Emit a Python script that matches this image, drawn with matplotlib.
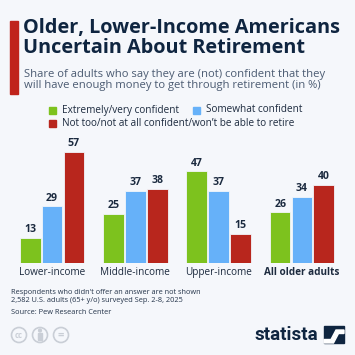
import matplotlib
matplotlib.use("Agg")
import matplotlib.pyplot as plt
from matplotlib.patches import Rectangle, Circle, Polygon
import numpy as np

categories = ["Lower-income", "Middle-income", "Upper-income", "All older adults"]
series_names = ["Extremely/very confident", "Somewhat confident",
                "Not too/not at all confident/won\u2019t be able to retire"]
extremely = [13, 25, 47, 26]
somewhat = [29, 37, 37, 34]
not_conf = [57, 38, 15, 40]
colors = ["#7dc21e", "#66b1f9", "#b8261d"]

title = "Older, Lower-Income Americans\nUncertain About Retirement"
subtitle = ("Share of adults who say they are (not) confident that they\n"
            "will have enough money to get through retirement (in %)")
notes = ["Respondents who didn't offer an answer are not shown",
         "2,582 U.S. adults (65+ y/o) surveyed Sep. 2-8, 2025",
         "Source: Pew Research Center"]

BG = "#f5f7fb"
NAVY = "#0f2540"
FONT = "Open Sans"

W = H = 355
fig = plt.figure(figsize=(3.55, 3.55), dpi=100, facecolor=BG)

def fx(px):
    return px / W

def fy(py):
    return 1 - py / H

# title bar
fig.patches.append(Rectangle((fx(10), fy(94)), fx(8), (94 - 21) / H,
                             transform=fig.transFigure, color="#c0241c"))
fig.text(fx(23), fy(18), title, fontsize=14.3, fontweight="bold", color=NAVY,
         family=FONT, va="top", ha="left", linespacing=0.98)
fig.text(fx(24), fy(68.5), subtitle, fontsize=8.15, color="#4b5b72",
         family=FONT, va="top", ha="left", linespacing=1.1)

# legend
leg = [(52, 110, 0), (196, 110, 1), (52, 123, 2)]
for x, y, i in leg:
    fig.patches.append(Rectangle((fx(x - 3.5), fy(y + 3.5)), 7 / W, 7 / H,
                                 transform=fig.transFigure, color=colors[i]))
    fig.text(fx(x + 10), fy(y), series_names[i], fontsize=7.2, color="#1d2b3f",
             family=FONT, va="center", ha="left")

# axes
ax = fig.add_axes([fx(10.35), fy(263), 333.3 / W, 123 / H])
ax.set_facecolor(BG)
ax.patch.set_alpha(0)
x = np.arange(len(categories))
step = 0.262
width = 0.248
for k, vals in enumerate([extremely, somewhat, not_conf]):
    bars = ax.bar(x + (k - 1) * step, vals, width=width, color=colors[k],
                  edgecolor="#f2f6fb", linewidth=0.6)
    for b, v in zip(bars, vals):
        ax.text(b.get_x() + b.get_width() / 2, v + 1.4, str(v), ha="center",
                va="bottom", fontsize=7.6, fontweight="bold", color="#1b2a3f",
                family=FONT)
ax.set_xlim(-0.5, 3.5)
ax.set_ylim(0, 63.0)
ax.set_yticks([])
ax.set_xticks(x)
ax.set_xticklabels(categories, fontsize=7.2, color="#1d2b3f", family=FONT)
ax.get_xticklabels()[-1].set_fontweight("bold")
ax.tick_params(axis="x", length=0, pad=3)
for s in ax.spines.values():
    s.set_visible(False)

# notes
for i, (t, y) in enumerate(zip(notes, [292, 301, 312])):
    fig.text(fx(11), fy(y), t, fontsize=5.3, color="#24344a", family=FONT,
             va="center", ha="left")

# cc icons
for cx in [19, 40, 61]:
    fig.patches.append(Circle((fx(cx), fy(335)), 7.5 / W, transform=fig.transFigure,
                              facecolor="none", edgecolor="#c9ced6", linewidth=1.2))
fig.text(fx(19), fy(335), "cc", fontsize=5.5, fontweight="bold", color="#c9ced6",
         ha="center", va="center", family=FONT)
fig.text(fx(61), fy(335.5), "=", fontsize=8, fontweight="bold", color="#c9ced6",
         ha="center", va="center", family=FONT)
fig.patches.append(Circle((fx(40), fy(330.5)), 1.4 / W, transform=fig.transFigure,
                          color="#c9ced6"))
fig.patches.append(Rectangle((fx(38.3), fy(340)), 3.4 / W, 7.5 / H,
                             transform=fig.transFigure, color="#c9ced6"))

# statista logo
fig.text(fx(318.5), fy(334.5), "statista", fontsize=13.5, fontweight="bold", color=NAVY,
         ha="right", va="center", family=["Roboto", "DejaVu Sans"])
fig.patches.append(Rectangle((fx(324), fy(343)), 20 / W, 17 / H,
                             transform=fig.transFigure, color=NAVY))
fig.patches.append(Polygon([(fx(324), fy(339.5)), (fx(331), fy(339.5)), (fx(336), fy(330)),
                            (fx(344), fy(330)), (fx(344), fy(333.5)), (fx(338.5), fy(333.5)),
                            (fx(333.5), fy(343)), (fx(324), fy(343))],
                           closed=True, transform=fig.transFigure, color="white"))

fig.savefig("out.png", dpi=100, facecolor=BG)
